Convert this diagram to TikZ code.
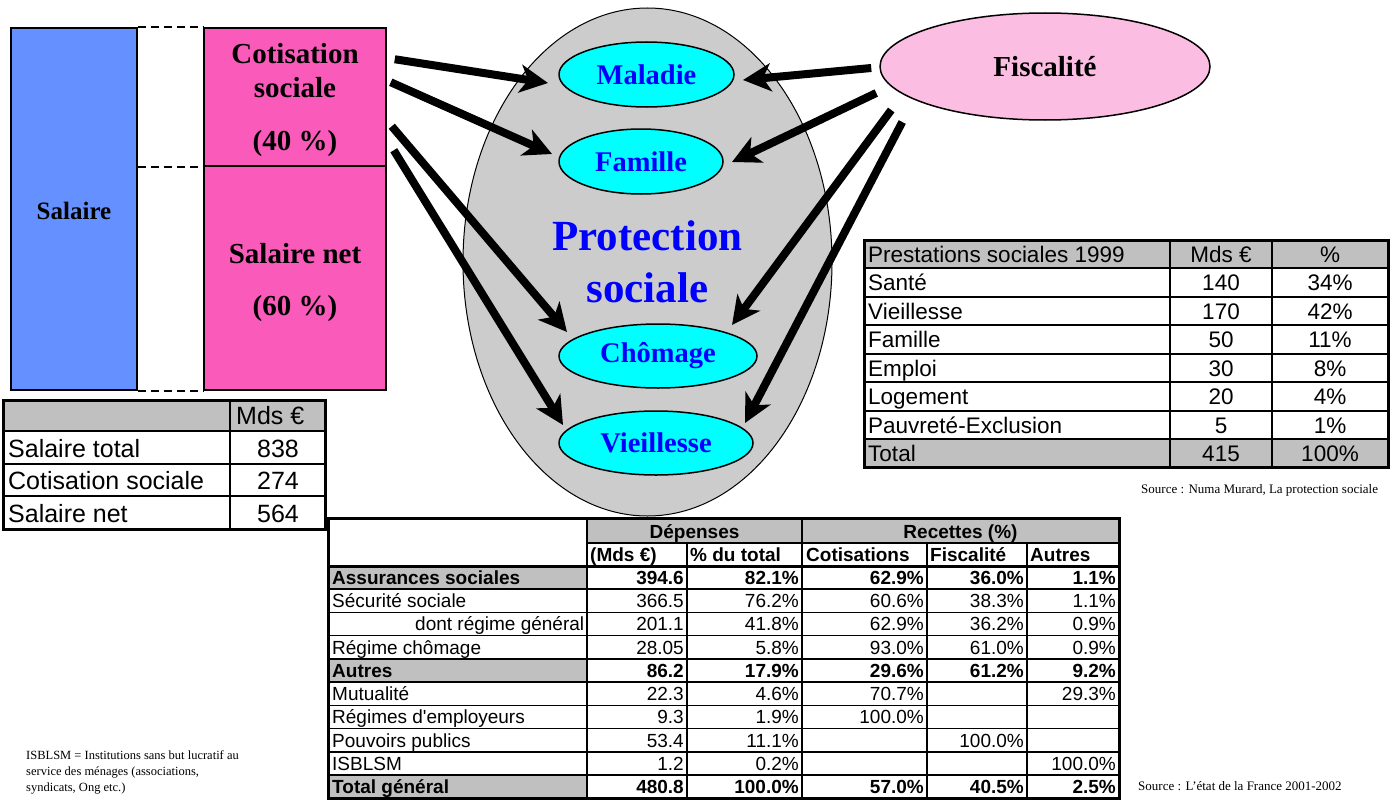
\documentclass[tikz,border=0pt]{standalone}
\usepackage{fontspec}
\setmainfont{Liberation Serif}
\newfontfamily\arialf{Liberation Sans}
\usetikzlibrary{arrows.meta,shapes.geometric}

\definecolor{salblue}{RGB}{100,145,255}
\definecolor{cotpink}{RGB}{250,90,185}
\definecolor{protgray}{RGB}{204,204,204}
\definecolor{branchcyan}{RGB}{0,255,255}
\definecolor{fiscpink}{RGB}{251,190,226}
\definecolor{cellgray}{RGB}{192,192,192}
\definecolor{titleblue}{RGB}{0,0,255}

% one row of the expenditure / revenue table
\newcommand{\bigrow}[9]{%
  \node[cellL,#3] (b#1l) at (332,#2) {#4};
  \node[cellR,#3] (b#1a) at (684,#2) {#5};
  \node[cellR,#3] (b#1b) at (799,#2) {#6};
  \node[cellR,#3] (b#1c) at (924,#2) {#7};
  \node[cellR,#3] (b#1d) at (1024,#2) {#8};
  \node[cellR,#3] (b#1e) at (1116,#2) {#9};}
% one row of the benefits table
\newcommand{\prow}[5]{%
  \node[pcellL] (p#1l) at (868,#2) {#3};
  \node[pcellC] (p#1m) at (1221,#2) {#4};
  \node[pcellC] (p#1p) at (1330,#2) {#5};}
% one row of the wage table
\newcommand{\wrow}[4]{%
  \node[wcellL] (w#1l) at (8,#2) {#3};
  \node[wcellC] (w#1v) at (278,#2) {#4};}

\begin{document}
\begin{tikzpicture}[x=1pt,y=-1pt,
  box/.style={draw=black,line width=1.5pt,inner sep=0pt},
  boxlabel/.style={inner sep=0pt,align=center,font=\bfseries\fontsize{29}{34}\selectfont},
  branch/.style={ellipse,draw=black,line width=1.5pt,fill=branchcyan,inner sep=0pt,
    text=titleblue,font=\bfseries\fontsize{28.5}{30}\selectfont},
  flow/.style={line width=8pt,-{Stealth[length=28pt,width=28pt,inset=8pt]}},
  guide/.style={dashed,dash pattern=on 8pt off 5pt,line width=1.5pt},
  cellL/.style={anchor=base west,inner sep=0pt,font=\arialf\fontsize{19}{22}\selectfont},
  cellR/.style={anchor=base east,inner sep=0pt,font=\arialf\fontsize{19}{22}\selectfont},
  cellC/.style={anchor=base,inner sep=0pt,font=\arialf\bfseries\fontsize{19}{22}\selectfont},
  strong/.style={font=\arialf\bfseries\fontsize{19}{22}\selectfont},
  pcellL/.style={anchor=base west,inner sep=0pt,font=\arialf\fontsize{22.5}{26}\selectfont},
  pcellC/.style={anchor=base,inner sep=0pt,font=\arialf\fontsize{22.5}{26}\selectfont},
  wcellL/.style={anchor=base west,inner sep=0pt,font=\arialf\fontsize{25}{29}\selectfont},
  wcellC/.style={anchor=base,inner sep=0pt,font=\arialf\fontsize{25}{29}\selectfont},
  note/.style={inner sep=0pt,font=\fontsize{13}{15}\selectfont},
  rule/.style={line width=2pt},
  frame/.style={line width=3pt}
]
\useasboundingbox (0,0) rectangle (1396,800);

% ---- wage split ----
\node[box,fill=salblue,minimum width=126pt,minimum height=362pt] (salaire) at (74,209) {};
\node[box,fill=cotpink,minimum width=182pt,minimum height=138pt] (cotis) at (295,97) {};
\node[box,fill=cotpink,minimum width=182pt,minimum height=224pt] (net) at (295,278) {};
\node[boxlabel,font=\bfseries\fontsize{25}{30}\selectfont] (salaireT) at ([yshift=-2pt]salaire.center) {Salaire};
\node[boxlabel] (cotisT) at ([yshift=-3pt]cotis.center) {Cotisation\\sociale\\[19pt](40~\%)};
\node[boxlabel] (netT) at ([yshift=-5pt]net.center) {Salaire net\\[18pt](60~\%)};
\draw[guide] (salaire.north east) -- (cotis.north west);
\draw[guide] (salaire.east |- cotis.south) -- (cotis.south west);
\draw[guide] (salaire.south east) -- (net.south west);

% ---- social protection ----
\node[ellipse,draw=black,line width=1pt,fill=protgray,minimum width=369pt,minimum height=508pt,
  inner sep=0pt,align=center,text=titleblue,font=\bfseries\fontsize{43}{52}\selectfont]
  (prot) at (647.5,262) {Protection\\sociale};
\node[branch,minimum width=175pt,minimum height=65pt] (maladie) at (646.5,74.5) {Maladie};
\node[branch,minimum width=164pt,minimum height=65pt] (famille) at (641,161.5) {Famille};
\node[branch,minimum width=198pt,minimum height=64pt] (chomage) at (658,356) {Chômage};
\node[branch,minimum width=194pt,minimum height=64pt] (vieil) at (656,443) {Vieillesse};

\node[ellipse,draw=black,line width=1.5pt,fill=fiscpink,minimum width=330pt,minimum height=107pt,
  inner sep=0pt,font=\bfseries\fontsize{29}{34}\selectfont] (fisc) at (1045,66.5) {Fiscalité};

% arrow starts
\coordinate (c1) at ([shift={(8,32)}]cotis.north east);
\coordinate (c2) at ([shift={(4,55)}]cotis.north east);
\coordinate (c3) at ([shift={(5,99)}]cotis.north east);
\coordinate (c4) at ([shift={(7,123)}]cotis.north east);
\coordinate (f1) at ([shift={(-8,1.5)}]fisc.west);
\coordinate (f2) at ([shift={(-3,26.5)}]fisc.west);
\coordinate (f3) at ([shift={(12,43.5)}]fisc.west);
\coordinate (f4) at ([shift={(23,55.5)}]fisc.west);

\draw[flow] (c1) -- ([shift={(-98.5,8.5)}]maladie.center);
\draw[flow] (c2) -- ([shift={(-89,-7.5)}]famille.center);
\draw[flow] (c3) -- ([shift={(-91,-24)}]chomage.center);
\draw[flow] (c4) -- ([shift={(-93,-18)}]vieil.center);
\draw[flow] (f1) -- ([shift={(96.5,5.5)}]maladie.center);
\draw[flow] (f2) -- ([shift={(91,0.5)}]famille.center);
\draw[flow] (f3) -- ([shift={(74,-31)}]chomage.center);
\draw[flow] (f4) -- ([shift={(89,-20)}]vieil.center);

% ---- wage table ----
\fill[cellgray] (3,400) rectangle (325,431);
\foreach \y in {431,464,496} \draw[rule] (3,\y) -- (325,\y);
\draw[rule] (230,400) -- (230,529);
\draw[frame] (3,400) rectangle (325,529);
\node[wcellL] (wh) at (236,424) {Mds €};
\wrow{1}{457}{Salaire total}{838}
\wrow{2}{489}{Cotisation sociale}{274}
\wrow{3}{522}{Salaire net}{564}

% ---- benefits table ----
\fill[cellgray] (864,240) rectangle (1388,268);
\fill[cellgray] (864,439) rectangle (1388,467.5);
\foreach \y in {268,296.5,325,353.5,382,410.5,439} \draw[rule] (864,\y) -- (1388,\y);
\foreach \x in {1170,1272} \draw[rule] (\x,240) -- (\x,467.5);
\draw[frame] (864,240) rectangle (1388,467.5);
\prow{0}{262}{Prestations sociales 1999}{Mds €}{\%}
\prow{1}{290.5}{Santé}{140}{34\%}
\prow{2}{319}{Vieillesse}{170}{42\%}
\prow{3}{347.5}{Famille}{50}{11\%}
\prow{4}{376}{Emploi}{30}{8\%}
\prow{5}{404.5}{Logement}{20}{4\%}
\prow{6}{433}{Pauvreté-Exclusion}{5}{1\%}
\prow{7}{461.5}{Total}{415}{100\%}
\node[note,anchor=base west] (src1) at (1141,493) {Source : Numa Murard, La protection sociale};

% ---- expenditure / revenue table ----
\fill[cellgray] (587,518) rectangle (1119,543);
\fill[cellgray] (328,566) rectangle (587,589.25);
\fill[cellgray] (328,659) rectangle (587,682.25);
\fill[cellgray] (328,775.25) rectangle (587,798.5);
\foreach \y in {612.5,635.75,705.5,728.75,752} \draw[line width=1.2pt] (328,\y) -- (1119,\y);
\foreach \y in {589.25,659,682.25,775.25} \draw[rule] (328,\y) -- (1119,\y);
\draw[line width=1.5pt] (587,543) -- (1119,543);
\draw[frame] (328,566) -- (1119,566);
\foreach \x in {587,802} \draw[line width=2.5pt] (\x,518) -- (\x,798.5);
\foreach \x in {687,927,1027} \draw[rule] (\x,543) -- (\x,798.5);
\draw[frame] (328,518) rectangle (1119,798.5);

\node[cellC] (hdep) at (694.5,538) {Dépenses};
\node[cellC] (hrec) at (960.5,538) {Recettes (\%)};
\node[cellL,strong] (hmds) at (590,561) {(Mds €)};
\node[cellL,strong] (hpct) at (690,561) {\% du total};
\node[cellL,strong] (hcot) at (806,561) {Cotisations};
\node[cellL,strong] (hfis) at (930,561) {Fiscalité};
\node[cellL,strong] (haut) at (1030,561) {Autres};

\bigrow{1}{584.25}{strong}{Assurances sociales}{394.6}{82.1\%}{62.9\%}{36.0\%}{1.1\%}
\bigrow{2}{607.5}{}{Sécurité sociale}{366.5}{76.2\%}{60.6\%}{38.3\%}{1.1\%}
\bigrow{3}{630.75}{}{\makebox[252pt][r]{dont régime général}}{201.1}{41.8\%}{62.9\%}{36.2\%}{0.9\%}
\bigrow{4}{654}{}{Régime chômage}{28.05}{5.8\%}{93.0\%}{61.0\%}{0.9\%}
\bigrow{5}{677.25}{strong}{Autres}{86.2}{17.9\%}{29.6\%}{61.2\%}{9.2\%}
\bigrow{6}{700.5}{}{Mutualité}{22.3}{4.6\%}{70.7\%}{}{29.3\%}
\bigrow{7}{723.75}{}{Régimes d'employeurs}{9.3}{1.9\%}{100.0\%}{}{}
\bigrow{8}{747}{}{Pouvoirs publics}{53.4}{11.1\%}{}{100.0\%}{}
\bigrow{9}{770.25}{}{ISBLSM}{1.2}{0.2\%}{}{}{100.0\%}
\bigrow{10}{793.5}{strong}{Total général}{480.8}{100.0\%}{57.0\%}{40.5\%}{2.5\%}

\node[note,anchor=base west] (src2) at (1138,790) {Source : L’état de la France 2001-2002};
\node[note,anchor=north west,align=left,font=\fontsize{12.5}{16}\selectfont] (isblsm) at (26,750)
  {ISBLSM = Institutions sans but lucratif au\\service des ménages (associations,\\syndicats, Ong etc.)};
\end{tikzpicture}
\end{document}
